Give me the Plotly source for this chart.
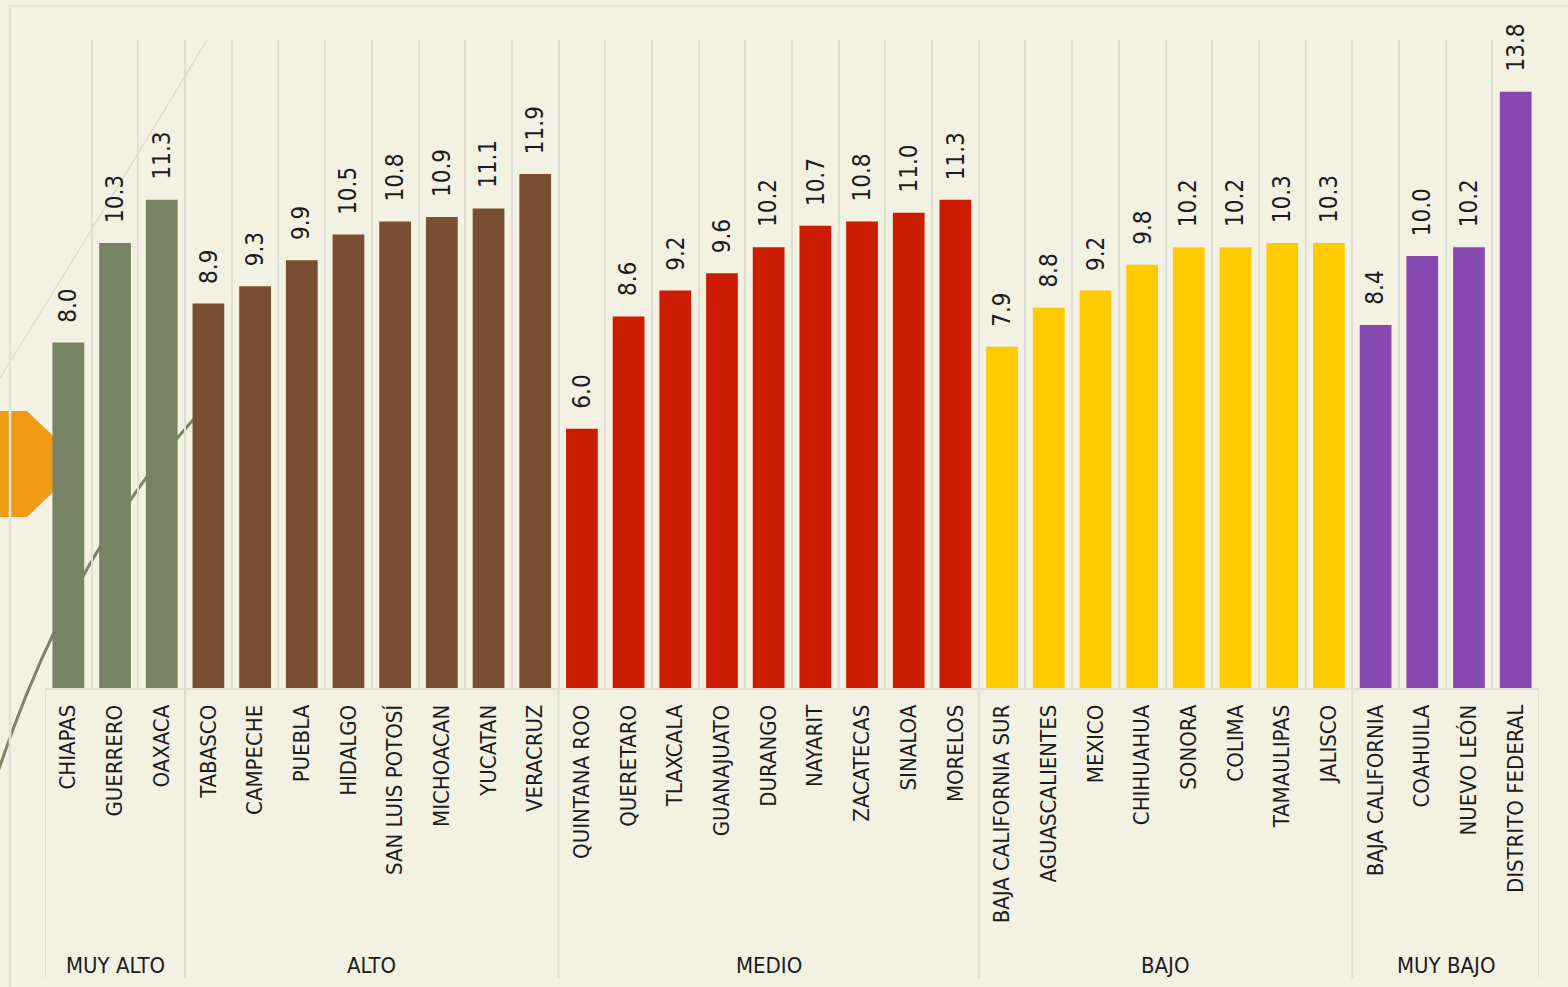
import plotly.graph_objects as go

# ---------------- data ----------------
groups = ["MUY ALTO", "ALTO", "MEDIO", "BAJO", "MUY BAJO"]
group_colors = ["#788366", "#7A4F31", "#CC1D00", "#FFCB00", "#8649AF"]

muy_alto_states = ["CHIAPAS", "GUERRERO", "OAXACA"]
muy_alto_values = [8.0, 10.3, 11.3]

alto_states = ["TABASCO", "CAMPECHE", "PUEBLA", "HIDALGO", "SAN LUIS POTOSÍ",
               "MICHOACAN", "YUCATAN", "VERACRUZ"]
alto_values = [8.9, 9.3, 9.9, 10.5, 10.8, 10.9, 11.1, 11.9]

medio_states = ["QUINTANA ROO", "QUERETARO", "TLAXCALA", "GUANAJUATO", "DURANGO",
                "NAYARIT", "ZACATECAS", "SINALOA", "MORELOS"]
medio_values = [6.0, 8.6, 9.2, 9.6, 10.2, 10.7, 10.8, 11.0, 11.3]

bajo_states = ["BAJA CALIFORNIA SUR", "AGUASCALIENTES", "MEXICO", "CHIHUAHUA",
               "SONORA", "COLIMA", "TAMAULIPAS", "JALISCO"]
bajo_values = [7.9, 8.8, 9.2, 9.8, 10.2, 10.2, 10.3, 10.3]

muy_bajo_states = ["BAJA CALIFORNIA", "COAHUILA", "NUEVO LEÓN", "DISTRITO FEDERAL"]
muy_bajo_values = [8.4, 10.0, 10.2, 13.8]

group_states = [muy_alto_states, alto_states, medio_states, bajo_states, muy_bajo_states]
group_values = [muy_alto_values, alto_values, medio_values, bajo_values, muy_bajo_values]

# ---------------- layout constants ----------------
W, H = 1568, 987
L, R, T, B = 45, 29, 40, 299
PW, PH = W - L - R, H - T - B
FONT = "DejaVu Sans Condensed, Liberation Sans, sans-serif"
GRID = "#DEDDD6"
BG = "#F3F1E2"


def px(x):
    return (x - L) / PW


def py(y):
    return (H - B - y) / PH


fig = go.Figure()

all_states = [s for g in group_states for s in g]

for name, color, states, vals in zip(groups, group_colors, group_states, group_values):
    fig.add_trace(go.Bar(
        x=states, y=vals, name=name, marker_color=color,
        marker_line_width=0, showlegend=False, hoverinfo="skip",
    ))
    for s, v in zip(states, vals):
        fig.add_annotation(
            x=s, y=v, text=f"{v:.1f}", showarrow=False, textangle=-90,
            yanchor="bottom", xanchor="center", yshift=18,
            font=dict(family=FONT, size=24, color="#1c1c1c"),
        )

# decorative shapes (background)
shapes = []
hexpts = [(-5, 411), (27, 411), (70, 452), (70, 476), (27, 517), (-5, 517)]
path = "M " + " L ".join(f"{px(a):.5f},{py(b):.5f}" for a, b in hexpts) + " Z"
shapes.append(dict(type="path", xref="paper", yref="paper", path=path,
                   fillcolor="#F09A16", line_width=0, layer="below"))
shapes.append(dict(type="path", xref="paper", yref="paper", layer="below",
                   path=f"M {px(0):.5f},{py(378):.5f} Q {px(95):.5f},{py(225):.5f} {px(207):.5f},{py(40):.5f}",
                   line=dict(color="#DCDCCF", width=1.5)))
shapes.append(dict(type="path", xref="paper", yref="paper", layer="below",
                   path=f"M {px(-2):.5f},{py(772):.5f} Q {px(70):.5f},{py(555):.5f} {px(200):.5f},{py(412):.5f}",
                   line=dict(color="#7A8466", width=3)))
shapes.append(dict(type="rect", xref="paper", yref="paper", layer="below",
                   x0=px(10), y0=py(1000), x1=px(1600), y1=py(6),
                   line=dict(color="#E2E1DA", width=2.5), fillcolor="rgba(0,0,0,0)"))

pos = -0.5
for name, states in zip(groups, group_states):
    start = pos
    end = pos + len(states)
    shapes.append(dict(type="line", xref="x", yref="paper", x0=start, x1=start,
                       y0=0, y1=py(978), line=dict(color=GRID, width=2)))
    fig.add_annotation(x=(start + end) / 2, y=py(965), xref="x", yref="paper",
                       text=name, showarrow=False, yanchor="middle",
                       font=dict(family=FONT, size=22, color="#1c1c1c"))
    pos = end
shapes.append(dict(type="line", xref="x", yref="paper", x0=pos, x1=pos,
                   y0=0, y1=py(978), line=dict(color=GRID, width=2)))

fig.update_layout(
    width=W, height=H,
    margin=dict(l=L, r=R, t=T, b=B, autoexpand=False),
    paper_bgcolor=BG, plot_bgcolor="rgba(0,0,0,0)",
    bargap=0.32,
    shapes=shapes,
    hovermode=False,
    xaxis=dict(
        type="category", categoryorder="array", categoryarray=all_states,
        tickson="boundaries", showgrid=True, gridcolor=GRID, gridwidth=1.5,
        ticks="", tickangle=-90, ticklabelstandoff=6,
        tickfont=dict(family=FONT, size=22, color="#1c1c1c"),
        showline=True, linecolor=GRID, linewidth=2,
        range=[-0.5, len(all_states) - 0.5], zeroline=False,
    ),
    yaxis=dict(range=[0, 15], visible=False, showgrid=False, zeroline=False),
)

fig.write_html(
    "out.html",
    config={"displayModeBar": False},
    post_script="document.body.style.margin='0';document.body.style.background='#F3F1E2';",
)
